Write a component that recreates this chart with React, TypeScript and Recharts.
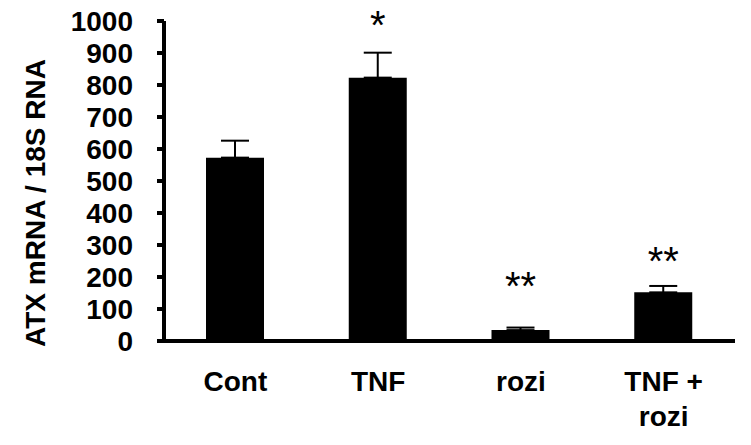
import React from "react";
import { BarChart, Bar, XAxis, YAxis, ErrorBar, LabelList } from "recharts";

const categories = ["Cont", "TNF", "rozi", "TNF +\nrozi"];
const means = [573, 823, 34, 152];
const sems = [53, 78, 8, 20];
const stars = ["", "*", "**", "**"];
const yTicks = [0, 100, 200, 300, 400, 500, 600, 700, 800, 900, 1000];

const data = categories.map((c, i) => ({
  name: c,
  mean: means[i],
  err: [0, sems[i]],
  sem: sems[i],
  star: stars[i],
}));

const FONT = "'Liberation Sans', Arial, sans-serif";
const starGap = [0, 14, 28, 11];

const StarLabel = (props: any) => {
  const { x, y, width, height, index } = props;
  const d = data[index];
  if (!d || !d.star) return null;
  const pxPerUnit = height / d.mean;
  const errTop = y - d.sem * pxPerUnit;
  return (
    <text
      x={x + width / 2}
      y={errTop - starGap[index]}
      textAnchor="middle"
      fontFamily={FONT}
      fontSize={40}
      fill="#000"
    >
      {d.star}
    </text>
  );
};

const XTick = (props: any) => {
  const { x, y, payload } = props;
  const lines = String(payload.value).split("\n");
  return (
    <g>
      {lines.map((l: string, i: number) => (
        <text
          key={i}
          x={x}
          y={y + 42 + i * 35}
          textAnchor="middle"
          fontFamily={FONT}
          fontWeight="bold"
          fontSize={28}
          fill="#000"
        >
          {l}
        </text>
      ))}
    </g>
  );
};

const YLabel = (props: any) => {
  const { viewBox } = props;
  const cx = 35;
  const cy = viewBox.y + viewBox.height / 2 + 22;
  return (
    <text
      x={cx}
      y={cy}
      transform={`rotate(-90, ${cx}, ${cy})`}
      textAnchor="middle"
      dominantBaseline="central"
      fontFamily={FONT}
      fontWeight="bold"
      fontSize={28}
      fill="#000"
    >
      ATX mRNA / 18S RNA
    </text>
  );
};

export default function App() {
  return (
    <div style={{ position: "absolute", left: 0, top: 0, background: "#fff" }}>
      <BarChart
        width={751}
        height={445}
        data={data}
        margin={{ top: 21, right: 16, left: 0, bottom: 44 }}
        barSize={58}
      >
        <XAxis
          dataKey="name"
          xAxisId="cat"
          axisLine={{ stroke: "#000", strokeWidth: 4 }}
          tickLine={false}
          tick={<XTick />}
          interval={0}
          height={60}
        />
        <XAxis
          xAxisId="bounds"
          type="number"
          domain={[0, 4]}
          ticks={[0, 1, 2, 3, 4]}
          axisLine={false}
          tickLine={{ stroke: "#000", strokeWidth: 4 }}
          tickSize={7}
          tick={false}
          height={0}
        />
        <YAxis
          width={164}
          domain={[0, 1000]}
          ticks={yTicks}
          interval={0}
          axisLine={{ stroke: "#000", strokeWidth: 4 }}
          tickLine={{ stroke: "#000", strokeWidth: 4 }}
          tickSize={7}
          tickMargin={24}
          tick={{ fontFamily: FONT, fontWeight: "bold", fontSize: 28, fill: "#000" }}
          label={<YLabel />}
        />
        <Bar dataKey="mean" xAxisId="cat" fill="#000" isAnimationActive={false}>
          <ErrorBar
            dataKey="err"
            direction="y"
            width={14}
            stroke="#000"
            strokeWidth={2}
            isAnimationActive={false}
          />
          <LabelList dataKey="star" content={<StarLabel />} />
        </Bar>
      </BarChart>
    </div>
  );
}
